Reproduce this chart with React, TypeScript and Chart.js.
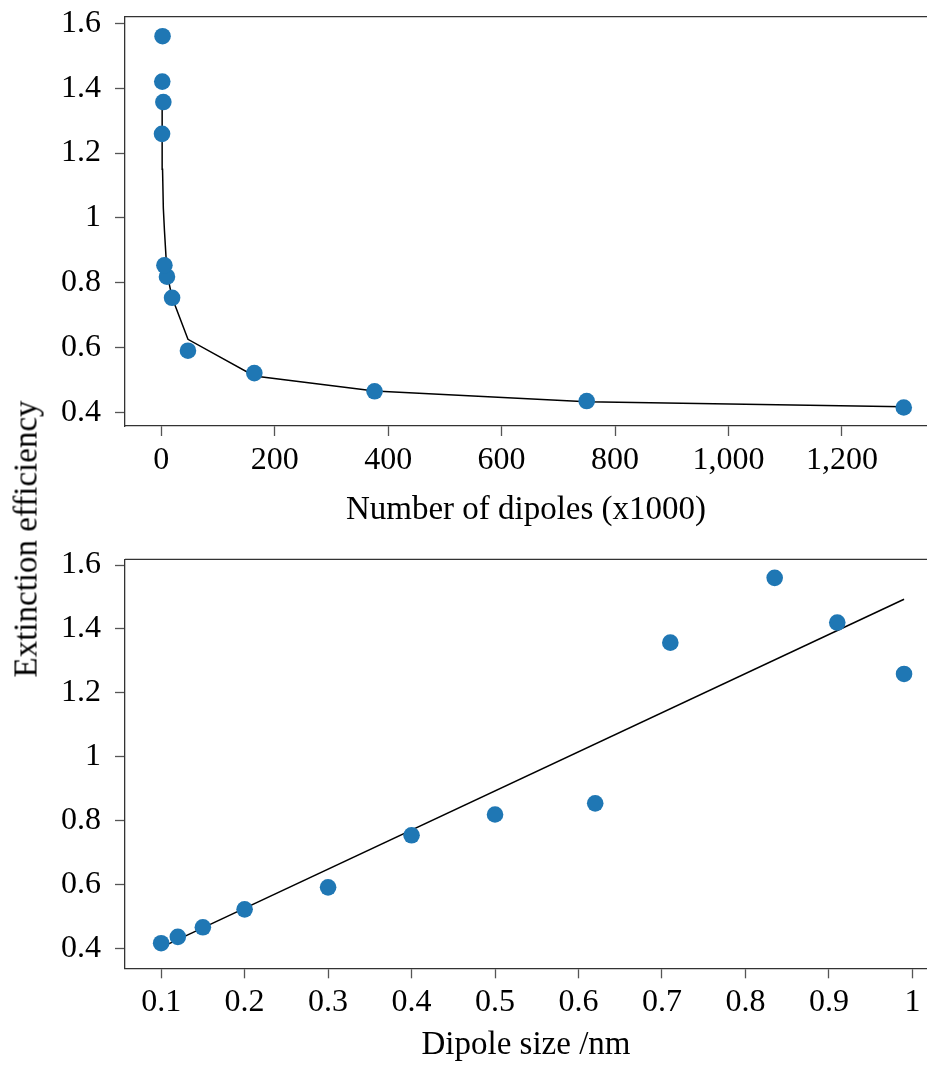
import React, { useEffect, useRef } from "react";
import { Chart, registerables } from "chart.js";

Chart.register(...registerables);

// ---- data ----
const DIPOLES_K = [1309, 750, 376, 164, 47, 19, 10, 5.5, 3.6, 2.2, 1.7, 1.3];
const DIPOLE_SIZE_NM = [0.1, 0.12, 0.15, 0.2, 0.3, 0.4, 0.5, 0.62, 0.71, 0.835, 0.91, 0.99];
const EXTINCTION = [0.416, 0.436, 0.466, 0.522, 0.591, 0.754, 0.819, 0.854, 1.357, 1.56, 1.42, 1.259];
const POWER_FIT = [0.418, 0.434, 0.467, 0.513, 0.626, 0.755, 0.83, 0.963, 1.03, 1.15, 1.235, 1.358];
const LINEAR_FIT_X = [0.1, 0.99];
const LINEAR_FIT_Y = [0.403, 1.493];

const Y_TICKS = [0.4, 0.6, 0.8, 1, 1.2, 1.4, 1.6];
const TOP_X_TICKS = [0, 200, 400, 600, 800, 1000, 1200];
const BOTTOM_X_TICKS = [0.1, 0.2, 0.3, 0.4, 0.5, 0.6, 0.7, 0.8, 0.9, 1];

const Y_TITLE = "Extinction efficiency";
const TOP_X_TITLE = "Number of dipoles (x1000)";
const BOTTOM_X_TITLE = "Dipole size /nm";

const FONT = "'Liberation Serif', 'Times New Roman', serif";
const FONT_SIZE = 32;
const TITLE_SIZE = 33;
const AXIS_COLOR = "#333333";
const TICK_COLOR = "#555555";
const POINT_COLOR = "#1f77b4";

const topBorder = {
  id: "topBorder",
  afterDraw(chart: any) {
    const { ctx, chartArea } = chart;
    ctx.save();
    ctx.strokeStyle = AXIS_COLOR;
    ctx.lineWidth = 1.3;
    ctx.beginPath();
    ctx.moveTo(chartArea.left, chartArea.top);
    ctx.lineTo(chartArea.right, chartArea.top);
    ctx.stroke();
    ctx.restore();
  },
};

function fmtNum(v: number) {
  return String(Math.round(v * 100) / 100);
}

function makeConfig(opts: {
  xs: number[];
  ys: number[];
  fitX: number[];
  fitY: number[];
  xMin: number;
  xMax: number;
  yMin: number;
  yMax: number;
  xTicks: number[];
  xFormat: (v: number) => string;
  xTitle: string;
  padTop: number;
  xAxisHeight: number;
}): any {
  const points = opts.xs.map((x, i) => ({ x, y: opts.ys[i] }));
  const fit = opts.fitX.map((x, i) => ({ x, y: opts.fitY[i] }));
  return {
    type: "scatter",
    data: {
      datasets: [
        {
          data: points,
          backgroundColor: POINT_COLOR,
          borderWidth: 0,
          pointRadius: 8.3,
          pointHoverRadius: 8.3,
          order: 1,
        },
        {
          data: fit,
          showLine: true,
          borderColor: "#000000",
          borderWidth: 1.5,
          pointRadius: 0,
          pointHoverRadius: 0,
          fill: false,
          tension: 0,
          order: 2,
        },
      ],
    },
    options: {
      responsive: false,
      animation: false,
      events: [],
      layout: { autoPadding: false, padding: { top: opts.padTop, left: 0, right: 0, bottom: 0 } },
      plugins: {
        legend: { display: false },
        tooltip: { enabled: false },
        title: { display: false },
      },
      scales: {
        x: {
          type: "linear",
          position: "bottom",
          min: opts.xMin,
          max: opts.xMax,
          afterBuildTicks: (scale: any) => {
            scale.ticks = opts.xTicks.map((v) => ({ value: v }));
          },
          afterFit: (scale: any) => {
            scale.height = opts.xAxisHeight;
            scale.paddingLeft = 0;
            scale.paddingRight = 0;
            scale.paddingTop = 0;
            scale.paddingBottom = 0;
          },
          grid: {
            display: true,
            drawOnChartArea: false,
            drawTicks: true,
            tickLength: 10,
            tickColor: TICK_COLOR,
            tickWidth: 1.3,
          },
          border: { display: true, color: AXIS_COLOR, width: 1.3 },
          ticks: {
            autoSkip: false,
            maxRotation: 0,
            padding: 5,
            color: "#000000",
            font: { family: FONT, size: FONT_SIZE },
            callback: (v: any) => opts.xFormat(Number(v)),
          },
          title: {
            display: true,
            text: opts.xTitle,
            color: "#000000",
            padding: { top: 0, bottom: 0 },
            font: { family: FONT, size: TITLE_SIZE, lineHeight: 1.2 },
          },
        },
        y: {
          type: "linear",
          position: "left",
          min: opts.yMin,
          max: opts.yMax,
          afterBuildTicks: (scale: any) => {
            scale.ticks = Y_TICKS.map((v) => ({ value: v }));
          },
          afterFit: (scale: any) => {
            scale.width = 125;
            scale.paddingLeft = 0;
            scale.paddingRight = 0;
            scale.paddingTop = 0;
            scale.paddingBottom = 0;
          },
          grid: {
            display: true,
            drawOnChartArea: false,
            drawTicks: true,
            tickLength: 10,
            tickColor: TICK_COLOR,
            tickWidth: 1.3,
          },
          border: { display: true, color: AXIS_COLOR, width: 1.3 },
          ticks: {
            autoSkip: false,
            padding: 14,
            color: "#000000",
            font: { family: FONT, size: FONT_SIZE },
            callback: (v: any) => fmtNum(Number(v)),
          },
        },
      },
    },
    plugins: [topBorder],
  };
}

export default function App() {
  const topRef = useRef<HTMLCanvasElement | null>(null);
  const botRef = useRef<HTMLCanvasElement | null>(null);

  useEffect(() => {
    document.body.style.margin = "0";
    const top = new Chart(
      topRef.current as HTMLCanvasElement,
      makeConfig({
        xs: DIPOLES_K,
        ys: EXTINCTION,
        fitX: DIPOLES_K,
        fitY: POWER_FIT,
        xMin: -64,
        xMax: 1350,
        yMin: 0.359,
        yMax: 1.62,
        xTicks: TOP_X_TICKS,
        xFormat: (v) => v.toLocaleString("en-US"),
        xTitle: TOP_X_TITLE,
        padTop: 16.7,
        xAxisHeight: 530 - 426,
      })
    );
    const bot = new Chart(
      botRef.current as HTMLCanvasElement,
      makeConfig({
        xs: DIPOLE_SIZE_NM,
        ys: EXTINCTION,
        fitX: LINEAR_FIT_X,
        fitY: LINEAR_FIT_Y,
        xMin: 0.0567,
        xMax: 1.0175,
        yMin: 0.3375,
        yMax: 1.618,
        xTicks: BOTTOM_X_TICKS,
        xFormat: fmtNum,
        xTitle: BOTTOM_X_TITLE,
        padTop: 559.3 - 530,
        xAxisHeight: 1065 - 968.3,
      })
    );
    return () => {
      top.destroy();
      bot.destroy();
    };
  }, []);

  return (
    <div style={{ position: "absolute", left: 0, top: 0, width: 927, height: 1065, background: "#fff" }}>
      <canvas ref={topRef} width={927} height={530} style={{ position: "absolute", left: 0, top: 0 }} />
      <canvas ref={botRef} width={927} height={535} style={{ position: "absolute", left: 0, top: 530 }} />
      <div
        style={{
          position: "absolute",
          left: 26,
          top: 539,
          transform: "translate(-50%, -50%) rotate(-90deg)",
          whiteSpace: "nowrap",
          fontFamily: FONT,
          fontSize: TITLE_SIZE,
          lineHeight: 1,
          color: "#000",
        }}
      >
        {Y_TITLE}
      </div>
    </div>
  );
}
